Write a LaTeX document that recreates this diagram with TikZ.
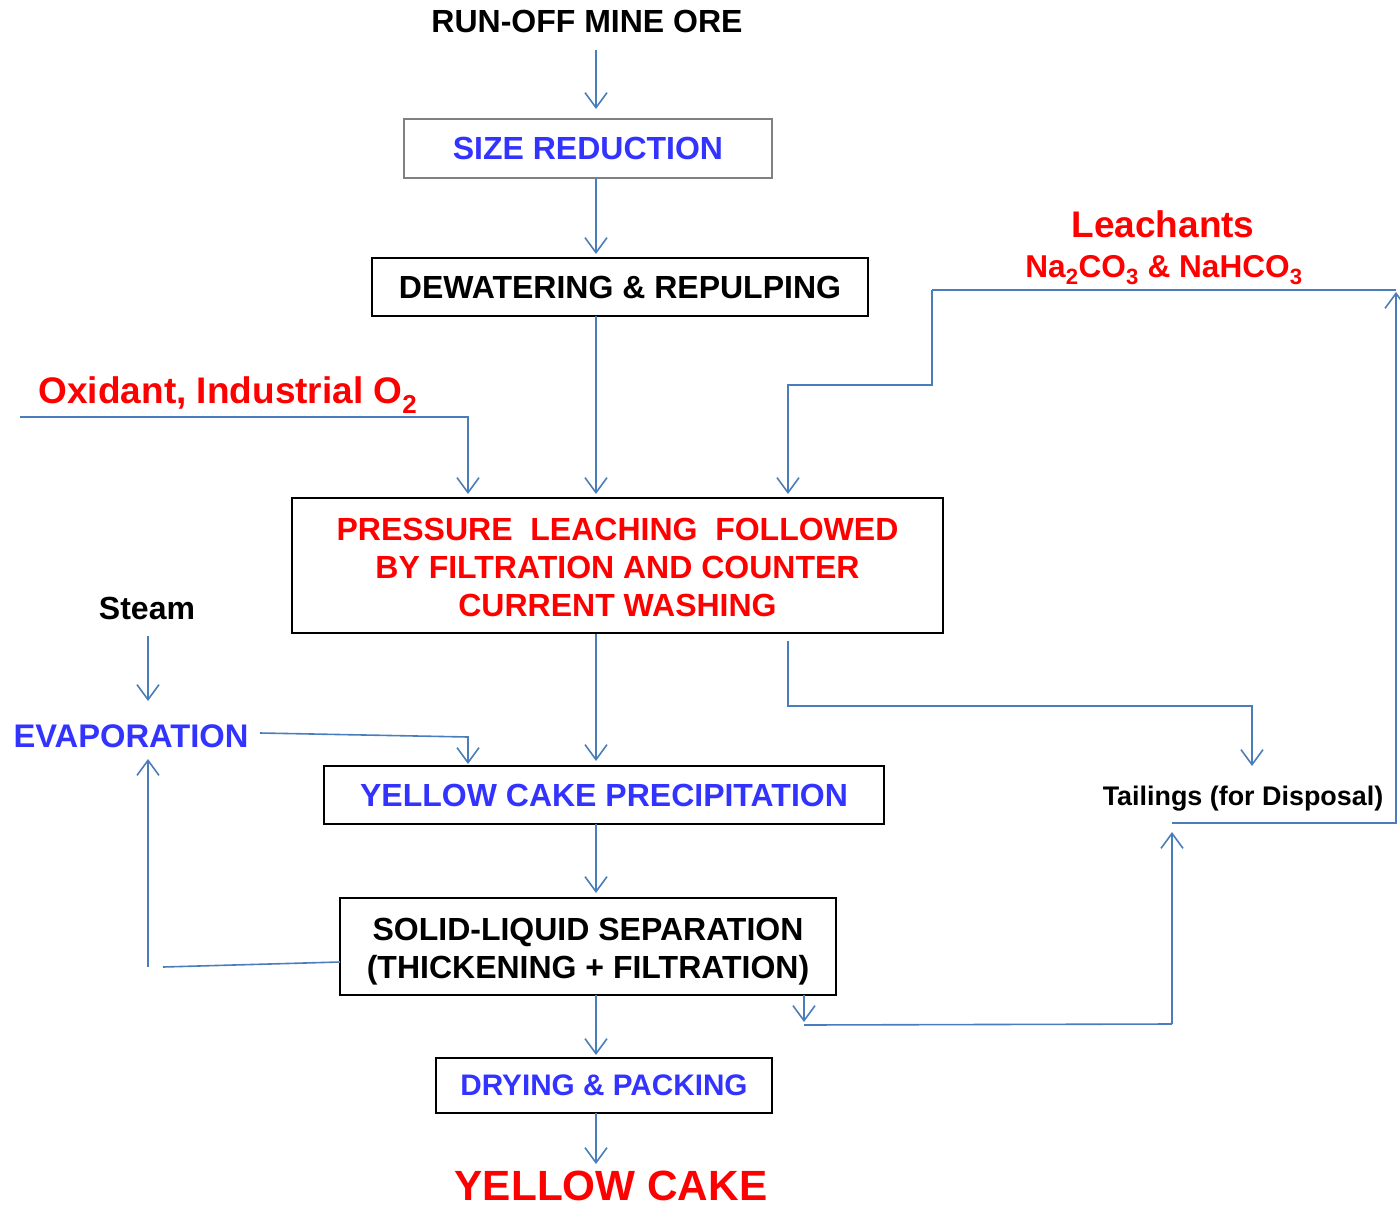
\documentclass[tikz,border=0pt]{standalone}
\usepackage{fontspec}
\setmainfont{Liberation Sans}
\usetikzlibrary{arrows.meta}
\definecolor{conn}{HTML}{4A7EBB}
\definecolor{tblue}{HTML}{3333FF}
\definecolor{tred}{HTML}{FF0000}
\tikzset{
  box/.style={draw=black,line width=1.6pt,inner sep=0pt,align=center,font=\bfseries\fontsize{32}{38}\selectfont},
  lbl/.style={inner sep=0pt,align=center,font=\bfseries\fontsize{32}{38}\selectfont},
  conn/.style={draw=conn,line width=1.6pt},
  arr/.style={conn,-{Straight Barb[length=15pt,width=22pt,line width=1.6pt]}},
}
\begin{document}
\begin{tikzpicture}[x=1pt,y=-1pt]
\useasboundingbox (0,0) rectangle (1400,1207);
% text labels
\node[lbl,font=\bfseries\fontsize{32}{38}\selectfont] (ore) at (587,21) {RUN-OFF MINE ORE};
\node[lbl,text=tred,font=\bfseries\fontsize{37}{40}\selectfont] (leach) at (1163,224) {Leachants};
\node[lbl,text=tred,font=\bfseries\fontsize{31.6}{38}\selectfont] (chem) at (1164,270) {Na$_\mathbf{2}$CO$_\mathbf{3}$ \& NaHCO$_\mathbf{3}$};
\node[lbl,text=tred,font=\bfseries\fontsize{37}{40}\selectfont] (oxid) at (228,395) {Oxidant, Industrial O$_\mathbf{2}$};
\node[lbl] (steam) at (147,608) {Steam};
\node[lbl,text=tblue,font=\bfseries\fontsize{32.7}{38}\selectfont] (evap) at (131,736) {EVAPORATION};
\node[lbl,font=\bfseries\fontsize{26.9}{30}\selectfont] (tail) at (1243,799) {Tailings (for Disposal)};
\node[lbl,text=tred,font=\bfseries\fontsize{42.3}{50}\selectfont] (cake) at (611,1186) {YELLOW CAKE};
% boxes
\node[box,draw=gray,text=tblue,minimum width=368pt,minimum height=59pt] (sr) at (588,148.5) {SIZE REDUCTION};
\node[box,minimum width=496pt,minimum height=58pt] (dw) at (620,287) {DEWATERING \& REPULPING};
\node[box,text=tred,text height=103pt,minimum width=651pt,minimum height=135pt] (pl) at (617.5,565.5) {PRESSURE\ \ LEACHING\ \ FOLLOWED\\BY FILTRATION AND COUNTER\\CURRENT WASHING};
\node[box,text=tblue,minimum width=560pt,minimum height=58pt] (yp) at (604,795) {YELLOW CAKE PRECIPITATION};
\node[box,text height=71pt,minimum width=496pt,minimum height=97pt] (sl) at (588,946.5) {SOLID-LIQUID SEPARATION\\(THICKENING + FILTRATION)};
\node[box,text=tblue,font=\bfseries\fontsize{29.7}{34}\selectfont,minimum width=336pt,minimum height=55pt] (dp) at (604,1085.5) {DRYING \& PACKING};
% coordinates
\coordinate (oreS) at (596,50);
\coordinate (srIn) at (596,109);
\coordinate (srOut) at (596,178);
\coordinate (dwIn) at (596,254);
\coordinate (dwOut) at (596,316);
\coordinate (plIn) at (596,494);
\coordinate (oxS) at (20,417);
\coordinate (oxB) at (468,417);
\coordinate (oxE) at (468,494);
\coordinate (leS) at (1396,290);
\coordinate (leB1) at (932,290);
\coordinate (leB2) at (932,385);
\coordinate (leB3) at (788,385);
\coordinate (leE) at (788,494);
\coordinate (plOut) at (596,634);
\coordinate (ypIn) at (596,761);
\coordinate (plT) at (788,641);
\coordinate (plTB1) at (788,706);
\coordinate (plTB2) at (1252,706);
\coordinate (tailIn) at (1252,766);
\coordinate (stS) at (148,636);
\coordinate (evIn) at (148,701);
\coordinate (evS) at (260,733);
\coordinate (evB) at (468,737);
\coordinate (evE) at (468,764);
\coordinate (ypOut) at (596,824);
\coordinate (slIn) at (596,893);
\coordinate (slL) at (340,962);
\coordinate (slLE) at (163,967);
\coordinate (evUpS) at (148,967);
\coordinate (evUpE) at (148,759);
\coordinate (slR) at (804,995);
\coordinate (slRE) at (804,1022);
\coordinate (bot1) at (804,1025);
\coordinate (bot2) at (1172,1024);
\coordinate (tailUpE) at (1172,832);
\coordinate (tailR) at (1172,823);
\coordinate (tailRB) at (1396,823);
\coordinate (tailRE) at (1396,292);
\coordinate (slOut) at (596,995);
\coordinate (dpIn) at (596,1055);
\coordinate (dpOut) at (596,1113);
\coordinate (cakeIn) at (596,1164);
% connectors
\draw[arr] (oreS) -- (srIn);
\draw[arr] (srOut) -- (dwIn);
\draw[arr] (dwOut) -- (plIn);
\draw[arr] (oxS) -- (oxB) -- (oxE);
\draw[conn] (leS) -- (leB1);
\draw[arr] (leB1) -- (leB2) -- (leB3) -- (leE);
\draw[arr] (plOut) -- (ypIn);
\draw[arr] (plT) -- (plTB1) -- (plTB2) -- (tailIn);
\draw[arr] (stS) -- (evIn);
\draw[arr] (evS) -- (evB) -- (evE);
\draw[arr] (ypOut) -- (slIn);
\draw[conn] (slL) -- (slLE);
\draw[arr] (evUpS) -- (evUpE);
\draw[arr] (slR) -- (slRE);
\draw[conn] (bot1) -- (bot2);
\draw[arr] (bot2) -- (tailUpE);
\draw[arr] (tailR) -- (tailRB) -- (tailRE);
\draw[arr] (slOut) -- (dpIn);
\draw[arr] (dpOut) -- (cakeIn);
\end{tikzpicture}
\end{document}
